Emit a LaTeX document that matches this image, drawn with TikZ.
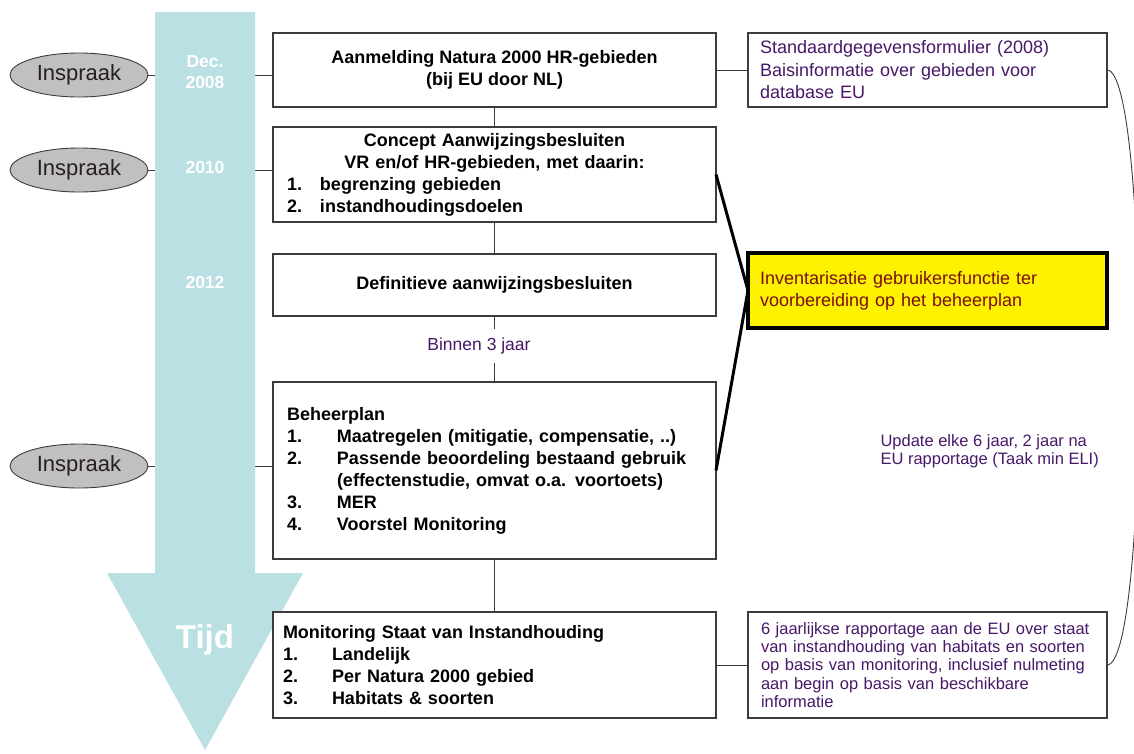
\documentclass[tikz,border=0pt]{standalone}
\usepackage{fontspec}
\setmainfont{Liberation Sans}
\usetikzlibrary{shapes.geometric}
\definecolor{tijdblue}{RGB}{186,224,227}
\definecolor{ovalgray}{RGB}{192,192,192}
\definecolor{linegray}{RGB}{60,60,60}
\definecolor{notepurple}{RGB}{72,24,104}
\definecolor{notered}{RGB}{120,16,16}
\pgfdeclarelayer{background}
\pgfsetlayers{background,main}

\tikzset{
  stapbox/.style={draw=linegray, line width=1.3pt, fill=white, anchor=north west,
    inner sep=0pt, outer sep=0pt, minimum width=443pt,
    font=\fontsize{18}{22}\selectfont\bfseries},
  notebox/.style={draw=linegray, line width=1.3pt, fill=white, anchor=north west,
    inner sep=0pt, outer sep=0pt, minimum width=359pt, align=left, text=notepurple,
    font=\fontsize{18}{22.5}\selectfont},
  inspraak/.style={ellipse, draw=linegray, line width=0.9pt, fill=ovalgray,
    minimum width=138pt, minimum height=44pt, inner sep=0pt, outer sep=0pt,
    text={rgb,255:red,40;green,30;blue,30}, font=\fontsize{22}{24}\selectfont},
  jaar/.style={text=white, align=center, font=\fontsize{17.5}{21}\selectfont\bfseries},
  verbind/.style={draw=linegray, line width=1pt},
}

\begin{document}
\begin{tikzpicture}[x=1pt, y=-1pt]

% Canvas
\useasboundingbox (0,0) rectangle (1134,753);

% Time arrow
\fill[tijdblue] (155,12) -- (255,12) -- (255,573) -- (303,573) -- (205,750)
  -- (107,573) -- (155,573) -- cycle;

% Years
\node[jaar] (dec2008) at (205,72) {Dec.\\2008};
\node[jaar] (j2010) at (205,167) {2010};
\node[jaar] (j2012) at (205,282) {2012};
\node[text=white, font=\fontsize{33}{36}\selectfont\bfseries] (tijd) at (205,640) {Tijd};

% Inspraak
\node[inspraak] (insp1) at (79,75) {Inspraak};
\node[inspraak] (insp2) at (79,170) {Inspraak};
\node[inspraak] (insp3) at (79,466) {Inspraak};

% Main steps
\node[stapbox, minimum height=74pt, align=center] (aanmelding) at (273,33)
  {Aanmelding Natura 2000 HR-gebieden\\(bij EU door NL)};
\node[stapbox, minimum height=95pt, text width=415pt, align=left] (concept) at (273,127)
  {\makebox[415pt][c]{Concept Aanwijzingsbesluiten}\\
   \makebox[415pt][c]{VR en/of HR-gebieden, met daarin:}\\
   \makebox[33pt][l]{1.}begrenzing gebieden\\
   \makebox[33pt][l]{2.}instandhoudingsdoelen};
\node[stapbox, minimum height=62pt] (definitief) at (273,254)
  {Definitieve aanwijzingsbesluiten};
\node[stapbox, minimum height=177pt, text width=415pt, align=left] (beheer) at (273,382)
  {Beheerplan\\
   \makebox[50pt][l]{1.}Maatregelen (mitigatie, compensatie, ..)\\
   \makebox[50pt][l]{2.}Passende beoordeling bestaand gebruik\\
   \makebox[50pt][l]{}(effectenstudie, omvat o.a. voortoets)\\
   \makebox[50pt][l]{3.}MER\\
   \makebox[50pt][l]{4.}Voorstel Monitoring};
\node[stapbox, minimum height=106pt, text width=423pt, align=left] (monitoring) at (273,612)
  {Monitoring Staat van Instandhouding\\
   \makebox[49pt][l]{1.}Landelijk\\
   \makebox[49pt][l]{2.}Per Natura 2000 gebied\\
   \makebox[49pt][l]{3.}Habitats \& soorten};

% Notes on the right
\node[notebox, minimum height=74pt, text width=335pt] (standaard) at (748,33)
  {Standaardgegevensformulier (2008)\\Baisinformatie over gebieden voor\\database EU};
\node[notebox, draw=black, line width=4pt, fill=yellow, text=notered,
  minimum height=75pt, text width=335pt, font=\fontsize{18}{22}\selectfont] (geel) at (748,253)
  {Inventarisatie gebruikersfunctie ter\\voorbereiding op het beheerplan};
\node[notebox, minimum height=106pt, text width=333pt,
  font=\fontsize{16.5}{18.3}\selectfont] (rapport) at (748,612)
  {6 jaarlijkse rapportage aan de EU over staat\\
   van instandhouding van habitats en soorten\\
   op basis van monitoring, inclusief nulmeting\\
   aan begin op basis van beschikbare\\
   informatie};
\node[anchor=west, align=left, text=notepurple, font=\fontsize{16.5}{18}\selectfont]
  (update) at (877,451) {Update elke 6 jaar, 2 jaar na\\EU rapportage (Taak min ELI)};

% Label on the flow
\node[fill=white, inner xsep=2pt, inner ysep=9pt, text=notepurple,
  font=\fontsize{17.5}{20}\selectfont] (binnen) at (479,346) {Binnen 3 jaar};

% Connectors
\begin{pgfonlayer}{background}
\draw[verbind] (insp1.east) -- (insp1.east -| aanmelding.west);
\draw[verbind] (insp2.east) -- (insp2.east -| concept.west);
\draw[verbind] (insp3.east) -- (insp3.east -| beheer.west);
\draw[verbind] (aanmelding) -- (concept);
\draw[verbind] (concept) -- (definitief);
\draw[verbind] (definitief) -- (beheer);
\draw[verbind] (beheer) -- (monitoring);
\draw[verbind] (aanmelding.east) -- (standaard.west);
\draw[verbind] (monitoring.east) -- (rapport.west);
\end{pgfonlayer}

% Bracket to the yellow note
\draw[line width=3pt] (concept.east) -- (geel.west) -- (beheer.east);

% Update curve
\draw[linegray, line width=0.9pt] (standaard.east) .. controls (1150,70) and (1150,665) .. (rapport.east);

\end{tikzpicture}
\end{document}
